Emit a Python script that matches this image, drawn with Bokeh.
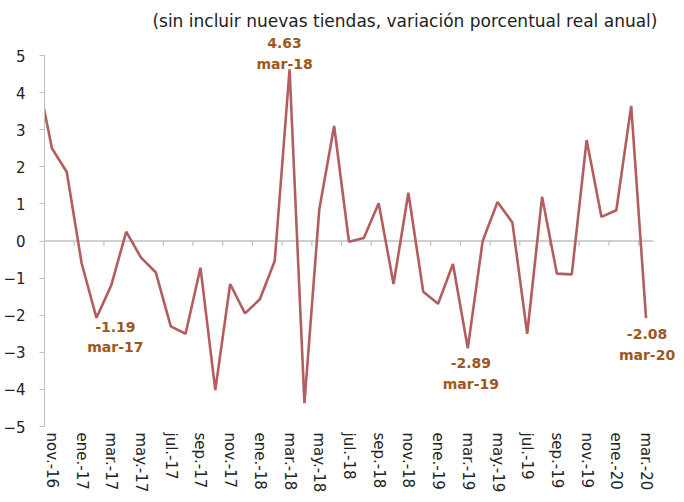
from bokeh.plotting import figure
from bokeh.models import Range1d, LinearAxis, FixedTicker, Label
from bokeh.embed import file_html
from bokeh.resources import INLINE

# Monthly categories (oct.-16 precedes the visible window; its segment is clipped)
months = ["oct.-16", "nov.-16", "dic.-16",
          "ene.-17", "feb.-17", "mar.-17", "abr.-17", "may.-17", "jun.-17",
          "jul.-17", "ago.-17", "sep.-17", "oct.-17", "nov.-17", "dic.-17",
          "ene.-18", "feb.-18", "mar.-18", "abr.-18", "may.-18", "jun.-18",
          "jul.-18", "ago.-18", "sep.-18", "oct.-18", "nov.-18", "dic.-18",
          "ene.-19", "feb.-19", "mar.-19", "abr.-19", "may.-19", "jun.-19",
          "jul.-19", "ago.-19", "sep.-19", "oct.-19", "nov.-19", "dic.-19",
          "ene.-20", "feb.-20", "mar.-20"]

values = [4.50, 2.50, 1.86,
          -0.60, -2.07, -1.19, 0.25, -0.45, -0.85,
          -2.30, -2.50, -0.72, -4.02, -1.16, -1.95,
          -1.57, -0.54, 4.63, -4.37, 0.85, 3.10,
          -0.02, 0.08, 1.02, -1.16, 1.30, -1.37,
          -1.69, -0.62, -2.89, 0.00, 1.05, 0.50,
          -2.50, 1.19, -0.88, -0.90, 2.72, 0.65,
          0.83, 3.64, -2.08]

y_ticks = [-5, -4, -3, -2, -1, 0, 1, 2, 3, 4, 5]

title_text = "(sin incluir nuevas tiendas, variación porcentual real anual)"

# annotated months
ann_months = ["mar.-17", "mar.-18", "mar.-19", "mar.-20"]
ann_names = ["mar-17", "mar-18", "mar-19", "mar-20"]

x = list(range(len(months)))
first_visible = 1
last_visible = len(months) - 1

FONT = "DejaVu Sans"
LINE_COLOR = "#B25E5E"
ANN_COLOR = "#A0561A"
AXIS_COLOR = "#BFBFBF"
TEXT_COLOR = "#222222"

Y_MIN, Y_MAX = -5, 5
Y_TOP_ROOM = 1.213      # extra room above the axis for title / annotations
X_RIGHT_ROOM = 1.82     # extra room right of the axis for the last annotation
TICK_LEN = 0.13         # length of the category tick marks (data units)

p = figure(width=680, height=500, output_backend="svg", toolbar_location=None,
           x_range=Range1d(first_visible - 0.5, last_visible + 0.5 + X_RIGHT_ROOM),
           y_range=Range1d(Y_MIN, Y_MAX + Y_TOP_ROOM),
           min_border_left=43, min_border_right=0,
           min_border_top=10, min_border_bottom=74,
           x_axis_location=None, y_axis_location=None)
p.outline_line_color = None
p.xgrid.visible = False
p.ygrid.visible = False
p.background_fill_color = "white"
p.border_fill_color = "white"

# y axis
yax = LinearAxis(ticker=FixedTicker(ticks=y_ticks), bounds=(Y_MIN, Y_MAX))
yax.axis_line_color = AXIS_COLOR
yax.major_tick_line_color = AXIS_COLOR
yax.major_tick_out = 5
yax.major_tick_in = 0
yax.minor_tick_line_color = None
yax.major_label_text_font = FONT
yax.major_label_text_font_size = "15px"
yax.major_label_text_color = TEXT_COLOR
yax.major_label_standoff = 14
p.add_layout(yax, "left")

# category labels at the bottom
label_ticks = [i for i in x[first_visible::2]]
xlab = LinearAxis(ticker=FixedTicker(ticks=label_ticks),
                  major_label_overrides={i: months[i] for i in label_ticks})
xlab.axis_line_color = None
xlab.major_tick_line_color = None
xlab.major_tick_in = 0
xlab.major_tick_out = 0
xlab.minor_tick_line_color = None
xlab.major_label_orientation = "vertical"
xlab.major_label_text_font = FONT
xlab.major_label_text_font_size = "15px"
xlab.major_label_text_color = TEXT_COLOR
xlab.major_label_standoff = 6
p.add_layout(xlab, "below")

# zero line across the category span, with tick marks every second category boundary
left_edge = first_visible - 0.5
right_edge = last_visible + 0.5
p.line([left_edge, right_edge], [0, 0], line_color=AXIS_COLOR, line_width=1.5)
boundary_ticks = [i + 0.5 for i in x[first_visible + 1:last_visible:2]]
p.segment(x0=boundary_ticks, y0=[0] * len(boundary_ticks),
          x1=boundary_ticks, y1=[-TICK_LEN] * len(boundary_ticks),
          line_color=AXIS_COLOR, line_width=1.2)

# the series
p.line(x, values, line_color=LINE_COLOR, line_width=2.6)

# subtitle
p.add_layout(Label(x=right_edge, y=Y_MAX, text=title_text, x_offset=4, y_offset=35,
                   text_align="right", text_baseline="middle",
                   text_font=FONT, text_font_size="17px", text_color=TEXT_COLOR))

# annotations
offsets = {"mar.-17": (4, 42, 62), "mar.-18": (-5, -26, -5),
           "mar.-19": (3, 15, 36), "mar.-20": (1, 16, 37)}
for m, name in zip(ann_months, ann_names):
    i = months.index(m)
    dx, dv, dd = offsets[m]
    for txt, dy in ((f"{values[i]:.2f}", dv), (name, dd)):
        p.add_layout(Label(x=i, y=values[i], text=txt, x_offset=dx, y_offset=-dy,
                           text_align="center", text_baseline="middle",
                           text_font=FONT, text_font_size="14px",
                           text_font_style="bold", text_color=ANN_COLOR))

open("out.html", "w").write(file_html(p, INLINE))
